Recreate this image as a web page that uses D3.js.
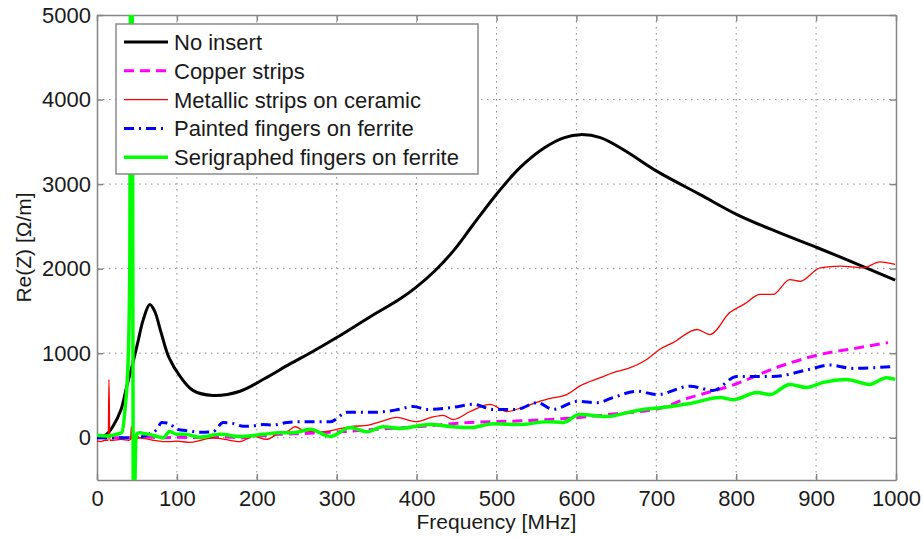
<!DOCTYPE html>
<html><head><meta charset="utf-8">
<script src="https://cdn.jsdelivr.net/npm/d3@7"></script>
<style>
body{margin:0;background:#fff;}
text{font-family:"Liberation Sans",Arial,sans-serif;}
</style></head>
<body><svg id="c" width="923" height="537"></svg>
<script>
// ---- data ----
const xTicks = [0,100,200,300,400,500,600,700,800,900,1000];
const yTicks = [0,1000,2000,3000,4000,5000];
const seriesNames = ["No insert","Copper strips","Metallic strips on ceramic","Painted fingers on ferrite","Serigraphed fingers on ferrite"];

const noInsertF = [0,7,12,20,30,37,44,51,58,66,72,80,90,104,120,145,179,210,241,270,300,340,379,400,423,446,470,500,530,560,585,605,630,660,701,755,801,850,901,950,999];
const noInsertV = [0,20,40,135,330,600,850,1125,1400,1575,1500,1250,950,725,560,500,550,700,870,1020,1185,1420,1640,1785,1975,2210,2510,2880,3200,3430,3550,3585,3550,3400,3150,2875,2640,2440,2250,2060,1865];

const copperF = [0,20,40,60,80,100,130,160,180,200,230,260,304,350,400,467,530,604,650,701,742,792,855,905,950,990];
const copperV = [0,0,0,10,0,5,0,10,0,20,40,50,70,100,130,180,200,240,285,340,475,610,845,985,1060,1125];

const metallicF = [0,5,10,14,15,16,20,30,40,42,43,44,50,60,70,83,91,100,116,130,145,160,179,196,212,229,238,248,260,283,300,317,340,358,375,400,418,433,446,467,492,513,533,554,570,588,604,630,646,665,688,705,721,751,767,792,810,830,846,867,880,905,930,959,980,999];
const metallicV = [-40,-45,-30,-30,690,-30,-30,-20,-30,-20,135,-20,0,-10,-30,-45,-45,-40,-55,-30,0,-20,-45,15,-20,60,75,130,80,70,100,130,150,200,240,190,240,265,215,310,395,310,360,430,470,510,610,710,770,820,925,1050,1125,1280,1220,1480,1580,1695,1695,1870,1850,2010,2030,2010,2080,2050];

const paintedF = [0,20,40,55,65,75,81,90,100,115,129,145,158,170,183,195,208,220,238,263,292,313,346,375,396,413,446,471,496,525,551,571,601,626,646,676,701,742,771,801,846,892,917,946,999];
const paintedV = [0,0,0,10,40,100,180,170,100,80,65,70,180,170,135,140,155,150,180,190,190,300,300,330,370,335,360,395,335,335,415,335,430,415,475,550,510,610,560,725,725,810,860,820,845];

const serigraphedF = [0,10,20,28,31,35,39,41,42,44,45.5,47,48.5,50,54,58,66,75,83,91,100,110,129,154,179,208,229,246,267,292,317,338,358,379,417,446,467,496,529,563,583,604,638,665,688,705,742,780,796,826,842,867,888,909,938,967,988,999];
const serigraphedV = [30,20,30,50,60,330,920,2000,5500,5500,-700,-700,-50,50,60,50,40,15,0,75,40,40,5,40,15,40,60,60,100,15,120,70,130,110,155,130,120,165,155,190,180,275,250,300,340,355,405,475,450,535,510,630,595,655,690,630,710,690];

// ---- drawing ----
const svg = d3.select("#c");
const X0=97, X1=896, Y0=15, Y1=480;
const x = d3.scaleLinear().domain([0,1000]).range([X0,X1]);
const y = d3.scaleLinear().domain([-500,5000]).range([Y1,Y0]);
const axisCol = "#858585", textCol = "#1a1a1a";
const FS = 21;

// grid
const g = svg.append("g");
g.selectAll(".vg").data(xTicks.slice(1,-1)).enter().append("line")
  .attr("x1",d=>x(d)).attr("x2",d=>x(d)).attr("y1",Y0).attr("y2",Y1)
  .attr("stroke","#8c8c8c").attr("stroke-width",1).attr("stroke-dasharray","1.5,4.5");
g.selectAll(".hg").data(yTicks.slice(0,-1)).enter().append("line")
  .attr("y1",d=>y(d)).attr("y2",d=>y(d)).attr("x1",X0).attr("x2",X1)
  .attr("stroke","#8c8c8c").attr("stroke-width",1).attr("stroke-dasharray","1.5,4.5");

// axes
const fmt = d3.format("d");
const axB = svg.append("g").attr("transform",`translate(0,${Y1})`)
  .call(d3.axisBottom(x).tickValues(xTicks).tickFormat(fmt).tickSizeInner(-6).tickSizeOuter(0).tickPadding(10));
const axT = svg.append("g").attr("transform",`translate(0,${Y0})`)
  .call(d3.axisTop(x).tickValues(xTicks).tickFormat("").tickSizeInner(-6).tickSizeOuter(0));
const axL = svg.append("g").attr("transform",`translate(${X0},0)`)
  .call(d3.axisLeft(y).tickValues(yTicks).tickFormat(fmt).tickSizeInner(-6).tickSizeOuter(0).tickPadding(6));
const axR = svg.append("g").attr("transform",`translate(${X1},0)`)
  .call(d3.axisRight(y).tickValues(yTicks).tickFormat("").tickSizeInner(-6).tickSizeOuter(0));
[axB,axT,axL,axR].forEach(a=>{
  a.select(".domain").attr("stroke",axisCol).attr("stroke-width",1.5);
  a.selectAll(".tick line").attr("stroke",axisCol).attr("stroke-width",1.5);
  a.selectAll("text").attr("font-size",FS+1).attr("fill",textCol).attr("font-family","Liberation Sans, Arial, sans-serif");
});

// clip
svg.append("clipPath").attr("id","pc").append("rect").attr("x",X0).attr("y",Y0).attr("width",X1-X0).attr("height",Y1-Y0);
const plot = svg.append("g").attr("clip-path","url(#pc)");

const series = [
  {name:seriesNames[0], f:noInsertF, v:noInsertV, color:"#000000", w:3, dash:null, curve:d3.curveCatmullRom},
  {name:seriesNames[1], f:copperF, v:copperV, color:"#ff00ff", w:3, dash:"10,6", curve:d3.curveMonotoneX},
  {name:seriesNames[2], f:metallicF, v:metallicV, color:"#ff0000", w:1.3, dash:null, curve:d3.curveMonotoneX},
  {name:seriesNames[3], f:paintedF, v:paintedV, color:"#0000ff", w:3, dash:"10,5,2,5", curve:d3.curveMonotoneX},
  {name:seriesNames[4], f:serigraphedF, v:serigraphedV, color:"#00ff00", w:3.5, dash:null, curve:d3.curveMonotoneX}
];
series.forEach(s=>{
  const pts = s.f.map((f,j)=>[f,s.v[j]]);
  const line = d3.line().x(d=>x(d[0])).y(d=>y(d[1])).curve(s.curve);
  plot.append("path").attr("d",line(pts)).attr("fill","none")
    .attr("stroke",s.color).attr("stroke-width",s.w)
    .attr("stroke-dasharray",s.dash).attr("stroke-linejoin","round");
});

// legend
const lg = svg.append("g");
lg.append("rect").attr("x",116).attr("y",24).attr("width",362).attr("height",150)
  .attr("fill","#fff").attr("stroke","#8a8a8a").attr("stroke-width",1.5);
series.forEach((s,i)=>{
  const yy = 42 + i*28.8;
  lg.append("line").attr("x1",124).attr("x2",168).attr("y1",yy).attr("y2",yy)
    .attr("stroke",s.color).attr("stroke-width",s.w).attr("stroke-dasharray",s.dash);
  lg.append("text").attr("x",174).attr("y",yy+8).attr("font-size",FS+1).attr("fill",textCol).text(s.name);
});

// axis titles
svg.append("text").attr("x",(X0+X1)/2).attr("y",529).attr("text-anchor","middle")
  .attr("font-size",FS).attr("fill",textCol).text("Frequency [MHz]");
svg.append("text").attr("transform",`translate(31,${(Y0+Y1)/2}) rotate(-90)`).attr("text-anchor","middle")
  .attr("font-size",FS).attr("fill",textCol).text("Re(Z) [Ω/m]");
</script></body></html>
